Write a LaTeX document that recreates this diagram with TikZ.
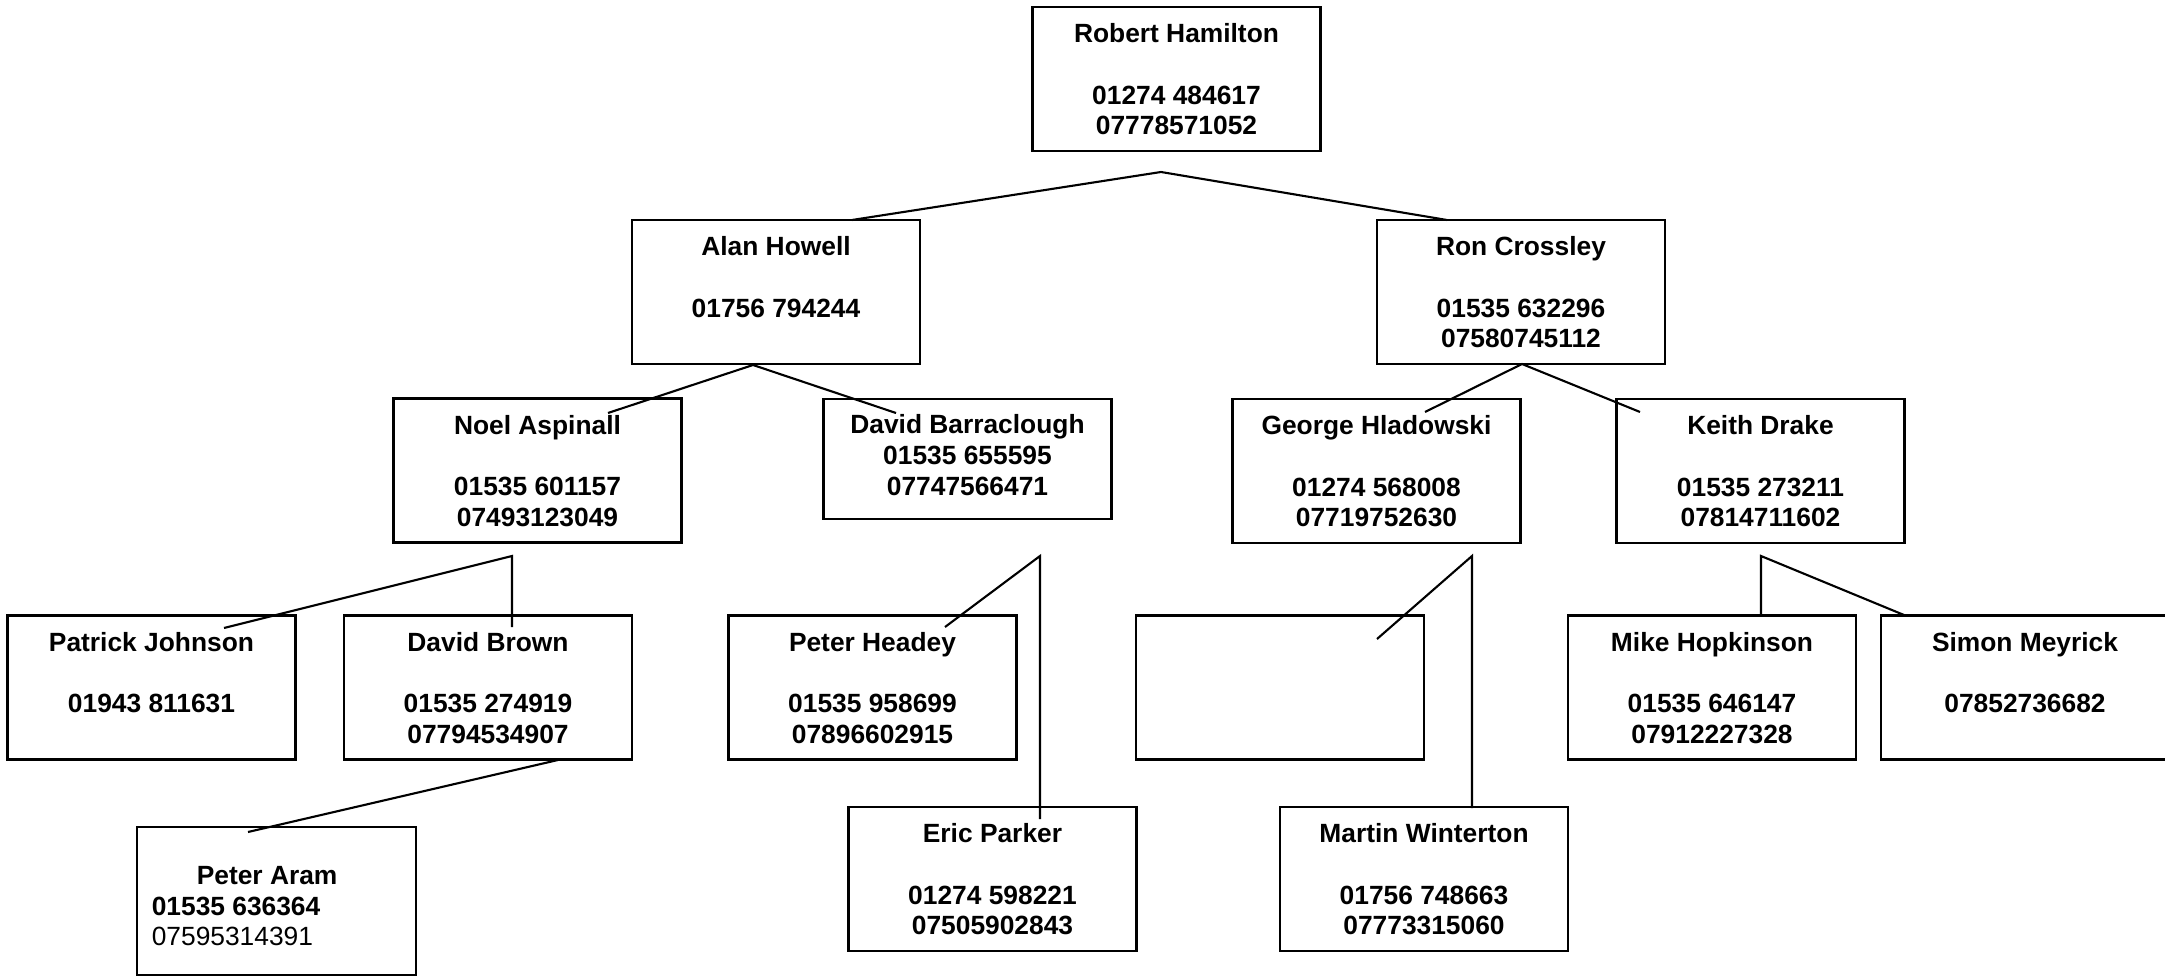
\documentclass[tikz,border=0pt]{standalone}
\usepackage{fontspec}
\setmainfont{Liberation Sans}
\usepackage{tikz}

\begin{document}
\begin{tikzpicture}[x=0.02cm,y=-0.02cm,
	box/.style={draw,line width=1.2pt,minimum width=5.76cm,minimum height=2.88cm,inner sep=0pt},
	txt/.style={anchor=north,align=center,inner sep=0pt,font=\fontsize{15}{17.4}\selectfont\bfseries},
	link/.style={line width=1.2pt}]
	\useasboundingbox (0,0) rectangle (2165,976);

	\node[box] (robert) at (1176.5,79) {};
	\node[box] (alan) at (776,292) {};
	\node[box] (ron) at (1521,292) {};
	\node[box] (noel) at (537.5,470.5) {};
	\node[box,minimum height=2.4cm] (barr) at (967.5,459) {};
	\node[box] (george) at (1376.5,471) {};
	\node[box] (keith) at (1760.5,471) {};
	\node[box] (patrick) at (151.5,687.5) {};
	\node[box] (brown) at (488,687.5) {};
	\node[box] (headey) at (872.5,687.5) {};
	\node[box] (empty) at (1280,687.5) {};
	\node[box] (mike) at (1712,687.5) {};
	\node[box] (simon) at (2025,687.5) {};
	\node[box,minimum width=5.58cm,minimum height=2.96cm] (aram) at (276.5,901) {};
	\node[box] (eric) at (992.5,879) {};
	\node[box] (martin) at (1424,879) {};

	\node[txt] (robert-t) at ([yshift=-0.35cm]robert.north) {Robert Hamilton\\[17.4pt]01274 484617\\07778571052};
	\node[txt] (alan-t) at ([yshift=-0.35cm]alan.north) {Alan Howell\\[17.4pt]01756 794244};
	\node[txt] (ron-t) at ([yshift=-0.35cm]ron.north) {Ron Crossley\\[17.4pt]01535 632296\\07580745112};
	\node[txt] (noel-t) at ([yshift=-0.35cm]noel.north) {Noel Aspinall\\[17.4pt]01535 601157\\07493123049};
	\node[txt] (barr-t) at ([yshift=-0.33cm]barr.north) {David Barraclough\\01535 655595\\07747566471};
	\node[txt] (george-t) at ([yshift=-0.35cm]george.north) {George Hladowski\\[17.4pt]01274 568008\\07719752630};
	\node[txt] (keith-t) at ([yshift=-0.35cm]keith.north) {Keith Drake\\[17.4pt]01535 273211\\07814711602};
	\node[txt] (patrick-t) at ([yshift=-0.35cm]patrick.north) {Patrick Johnson\\[17.4pt]01943 811631};
	\node[txt] (brown-t) at ([yshift=-0.35cm]brown.north) {David Brown\\[17.4pt]01535 274919\\07794534907};
	\node[txt] (headey-t) at ([yshift=-0.35cm]headey.north) {Peter Headey\\[17.4pt]01535 958699\\07896602915};
	\node[txt] (mike-t) at ([yshift=-0.35cm]mike.north) {Mike Hopkinson\\[17.4pt]01535 646147\\07912227328};
	\node[txt] (simon-t) at ([yshift=-0.35cm]simon.north) {Simon Meyrick\\[17.4pt]07852736682};
	\node[txt] (eric-t) at ([yshift=-0.35cm]eric.north) {Eric Parker\\[17.4pt]01274 598221\\07505902843};
	\node[txt] (martin-t) at ([yshift=-0.35cm]martin.north) {Martin Winterton\\[17.4pt]01756 748663\\07773315060};
	\node[txt,anchor=north west,align=left] (aram-t) at ([xshift=0.31cm,yshift=-0.8cm]aram.north west) {\hspace*{0.9cm}Peter Aram\\01535 636364\\{\mdseries 07595314391}};

	\coordinate (robert-fork) at (1161,172);
	\coordinate (alan-in) at (852,220);
	\coordinate (ron-in) at (1447,220);
	\draw[link] (alan-in) -- (robert-fork) -- (ron-in);

	\coordinate (alan-fork) at (753,365);
	\coordinate (noel-in) at (608,413);
	\coordinate (barr-in) at (896,413);
	\draw[link] (noel-in) -- (alan-fork) -- (barr-in);

	\coordinate (ron-fork) at (1522,364);
	\coordinate (george-in) at (1425,412);
	\coordinate (keith-in) at (1640,412);
	\draw[link] (george-in) -- (ron-fork) -- (keith-in);

	\coordinate (noel-fork) at (512,556);
	\coordinate (patrick-in) at (224,628);
	\coordinate (brown-in) at (512,627);
	\draw[link] (patrick-in) -- (noel-fork) -- (brown-in);

	\coordinate (brown-fork) at (558,760);
	\coordinate (aram-in) at (248,832);
	\draw[link] (brown-fork) -- (aram-in);

	\coordinate (barr-fork) at (1040,556);
	\coordinate (headey-in) at (945,627);
	\coordinate (eric-in) at (1040,819);
	\draw[link] (headey-in) -- (barr-fork) -- (eric-in);

	\coordinate (george-fork) at (1472,556);
	\coordinate (empty-in) at (1377,639);
	\coordinate (martin-in) at (1472,808);
	\draw[link] (empty-in) -- (george-fork) -- (martin-in);

	\coordinate (keith-fork) at (1761,556);
	\coordinate (mike-in) at (1761,615);
	\coordinate (simon-in) at (1904,615);
	\draw[link] (mike-in) -- (keith-fork) -- (simon-in);
\end{tikzpicture}
\end{document}
